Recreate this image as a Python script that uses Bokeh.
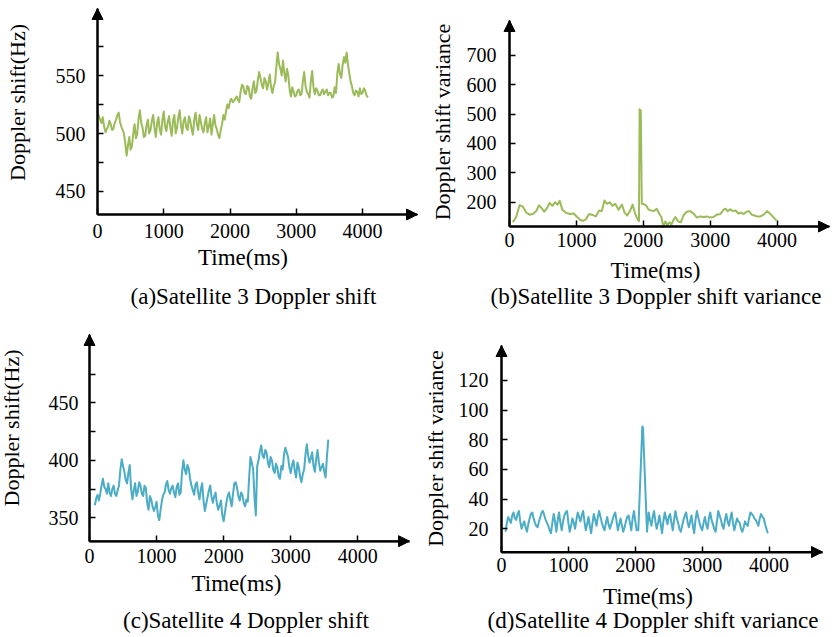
import math
from bokeh.plotting import figure
from bokeh.layouts import column, row
from bokeh.models import FixedTicker, Arrow, NormalHead, Label, Range1d
from bokeh.embed import file_html
from bokeh.resources import INLINE

FONT = "Liberation Serif"
GREEN = "#9bbb59"
BLUE = "#4bacc6"

# ---------------- data ----------------
# (a) Satellite 3 Doppler shift (Hz), sampled every 20 ms from 0 ms
sat3_time = list(range(0, 4081, 20))
sat3_shift = [
    519, 515, 512, 509, 514, 506, 501, 504, 506, 511, 508, 503, 504, 509, 512, 516, 518, 510, 506, 503,
    500, 491, 481, 490, 497, 486, 489, 500, 508, 496, 500, 513, 520, 509, 505, 497, 498, 507, 512, 500,
    503, 511, 516, 505, 497, 509, 514, 503, 499, 512, 519, 506, 502, 510, 515, 505, 498, 511, 516, 500,
    505, 514, 520, 507, 500, 511, 514, 505, 503, 515, 511, 504, 499, 512, 518, 508, 503, 516, 510, 504,
    501, 509, 514, 501, 506, 513, 499, 508, 516, 507, 504, 499, 496, 503, 508, 516, 512, 519, 525, 522,
    528, 530, 527, 528, 530, 532, 529, 527, 536, 542, 541, 535, 534, 541, 540, 532, 530, 539, 545, 535,
    537, 546, 553, 548, 542, 539, 548, 545, 538, 544, 551, 540, 535, 541, 544, 558, 570, 560, 556, 550,
    563, 552, 545, 556, 550, 538, 532, 540, 536, 532, 533, 537, 538, 533, 534, 545, 553, 541, 536, 534,
    531, 545, 554, 540, 534, 539, 537, 533, 533, 536, 538, 534, 536, 538, 533, 535, 535, 531, 532, 540,
    535, 552, 560, 551, 548, 559, 566, 561, 570, 560, 552, 545, 541, 535, 533, 537, 536, 532, 539, 534,
    535, 539, 537, 533, 531,
]

# (b) Satellite 3 Doppler shift variance
sat3_var_time = [
    50, 100, 150, 200, 250, 300, 350, 400, 440, 480,
    520, 560, 600, 640, 680, 720, 750, 790, 840, 900,
    960, 1010, 1060, 1100, 1140, 1190, 1240, 1290, 1340, 1380,
    1420, 1460, 1500, 1540, 1580, 1630, 1680, 1720, 1760, 1800,
    1840, 1880, 1920, 1935, 1945, 1962, 1978, 2000, 2040, 2080,
    2120, 2160, 2200, 2240, 2270, 2300, 2330, 2360, 2390, 2420,
    2450, 2480, 2520, 2560, 2600, 2650, 2700, 2750, 2800, 2850,
    2900, 2950, 3000, 3050, 3100, 3150, 3200, 3230, 3260, 3300,
    3340, 3380, 3420, 3460, 3500, 3540, 3580, 3620, 3660, 3700,
    3750, 3800, 3850, 3900, 3950, 3990,
]
sat3_var = [
    132, 150, 190, 185, 165, 158, 160, 170, 190, 180,
    168, 180, 198, 188, 200, 192, 205, 175, 165, 160,
    162, 150, 140, 137, 142, 160, 157, 152, 172, 170,
    206, 195, 200, 188, 195, 175, 192, 165, 155, 170,
    192, 160, 140, 136, 516, 512, 195, 194, 190, 175,
    172, 170, 178, 160, 150, 116, 135, 122, 132, 124,
    140, 150, 135, 132, 155, 168, 170, 162, 148, 152,
    150, 152, 148, 150, 158, 160, 175, 178, 170, 176,
    170, 172, 162, 165, 160, 168, 170, 158, 155, 152,
    152, 158, 170, 160, 148, 138,
]

# (c) Satellite 4 Doppler shift (Hz), sampled every 20 ms from 80 ms
sat4_time = list(range(80, 3561, 20))
sat4_shift = [
    361, 367, 370, 365, 371, 378, 384, 377, 375, 371, 380, 372, 369, 375, 378, 371, 369, 374, 378, 392,
    401, 395, 390, 383, 380, 389, 396, 375, 366, 374, 380, 369, 373, 381, 378, 371, 369, 378, 376, 363,
    357, 369, 366, 360, 356, 359, 364, 352, 348, 357, 365, 370, 372, 379, 382, 374, 371, 376, 378, 372,
    368, 377, 380, 370, 372, 390, 400, 392, 388, 396, 393, 384, 378, 374, 370, 379, 381, 372, 366, 375,
    380, 365, 356, 362, 368, 374, 378, 368, 363, 369, 372, 362, 357, 361, 365, 352, 347, 355, 363, 369,
    372, 366, 360, 371, 380, 381, 376, 369, 365, 372, 370, 363, 360, 366, 364, 385, 403, 398, 392, 368,
    352, 395, 400, 408, 413, 404, 402, 409, 407, 398, 394, 403, 400, 392, 389, 397, 394, 386, 384, 395,
    392, 405, 411, 407, 403, 394, 389, 396, 400, 391, 385, 398, 394, 386, 381, 388, 392, 405, 414, 404,
    398, 402, 407, 395, 390, 401, 409, 398, 391, 394, 397, 390, 385, 403, 418,
]

# (d) Satellite 4 Doppler shift variance
sat4_var_time = (list(range(60, 2021, 20)) + [2045, 2105, 2115, 2175]
                 + list(range(2200, 3981, 20)))
sat4_var = [
    18, 24, 28, 26, 24, 29, 31, 27, 26, 30,
    32, 25, 20, 23, 25, 21, 18, 23, 27, 30,
    31, 27, 24, 22, 21, 25, 28, 31, 32, 29,
    26, 24, 22, 19, 17, 24, 30, 25, 18, 26,
    31, 24, 19, 25, 29, 31, 32, 24, 18, 22,
    27, 24, 20, 26, 31, 28, 25, 29, 32, 25,
    19, 23, 28, 22, 17, 24, 30, 26, 22, 28,
    32, 28, 24, 21, 19, 24, 28, 23, 20, 23,
    26, 29, 31, 25, 19, 23, 27, 22, 18, 21,
    25, 28, 29, 24, 19, 27, 32, 25, 19,
    19, 89, 88, 18,
    31, 26, 22, 28, 32, 25, 20, 24, 29, 23,
    17, 25, 31, 27, 23, 28, 30, 24, 19, 26,
    32, 27, 24, 20, 18, 22, 26, 29, 31, 25,
    21, 25, 29, 22, 17, 26, 32, 28, 24, 21,
    19, 24, 28, 23, 20, 27, 31, 26, 23, 20,
    18, 25, 32, 29, 26, 22, 20, 26, 30, 25,
    22, 27, 31, 24, 19, 23, 27, 25, 24, 20,
    18, 21, 25, 23, 22, 27, 31, 30, 29, 27,
    26, 24, 22, 27, 30, 28, 27, 23, 20, 17,
]

x_ticks = [0, 1000, 2000, 3000, 4000]
sat3_shift_ticks = [450, 475, 500, 525, 550, 575]
sat3_var_ticks = [200, 300, 400, 500, 600, 700]
sat4_shift_ticks = [350, 375, 400, 425, 450, 475]
sat4_var_ticks = [20, 40, 60, 80, 100, 120]

# axis extents (data units): x arrow tip, y at the x-axis, y arrow tip
sat3_shift_axes = (4830, 430.1, 607.9)
sat3_var_axes = (4783, 117.7, 818.0)
sat4_shift_axes = (4771, 329.7, 509.4)
sat4_var_axes = (4798, 4.35, 143.6)


def panel(w, h, geom, axes, xs, ys, color, yticks, blank,
          ylabel, ylab_pos, xlab_pos, caption, cap_pos,
          tick_sx, tick_sy):
    ox, oy, tipx, tipy = geom          # pixel geometry inside the figure
    x_tip, y0, y_tip = axes
    ux = x_tip / (tipx - ox)
    uy = (y_tip - y0) / (oy - tipy)
    x_start = -ox * ux
    y_end = y0 + oy * uy
    xr = Range1d(x_start, x_start + w * ux)
    yr = Range1d(y_end - h * uy, y_end)

    def dx(px):
        return x_start + px * ux

    def dy(py):
        return y_end - py * uy

    p = figure(width=w, height=h, output_backend="svg", toolbar_location=None,
               title=None, x_range=xr, y_range=yr,
               min_border_left=0, min_border_right=0,
               min_border_top=0, min_border_bottom=0)
    p.xgrid.visible = False
    p.ygrid.visible = False
    p.outline_line_color = None
    p.background_fill_color = "white"
    p.border_fill_color = "white"
    p.line(xs, ys, line_color=color, line_width=2, line_join="round")

    for ax in (p.xaxis[0], p.yaxis[0]):
        ax.axis_line_width = 2
        ax.axis_line_color = "black"
        ax.major_tick_line_width = 1.5
        ax.major_tick_line_color = "black"
        ax.major_tick_in = 6
        ax.major_tick_out = 0
        ax.minor_tick_in = 0
        ax.minor_tick_out = 0
        ax.major_label_text_font = FONT
        ax.major_label_text_font_size = "20px"
        ax.major_label_text_font_style = "normal"
        ax.major_label_text_color = "black"
    xa, ya = p.xaxis[0], p.yaxis[0]
    xa.fixed_location = y0
    ya.fixed_location = 0
    xa.bounds = (0, x_tip)
    ya.bounds = (y0, y_tip)
    xa.ticker = FixedTicker(ticks=x_ticks)
    ya.ticker = FixedTicker(ticks=yticks)
    ya.major_label_overrides = {t: "" for t in blank}
    xa.major_label_standoff = tick_sx
    ya.major_label_standoff = tick_sy

    head_kw = dict(size=11, fill_color="black", line_color="black", line_width=1)
    p.add_layout(Arrow(end=NormalHead(**head_kw), x_start=0, y_start=y0,
                       x_end=0, y_end=y_tip, line_color="black", line_width=2))
    p.add_layout(Arrow(end=NormalHead(**head_kw), x_start=0, y_start=y0,
                       x_end=x_tip, y_end=y0, line_color="black", line_width=2))

    common = dict(text_font=FONT, text_color="black", text_align="center",
                  text_baseline="middle", text_font_style="normal")
    p.add_layout(Label(x=dx(ylab_pos[0]), y=dy(ylab_pos[1]), text=ylabel,
                       angle=math.pi / 2, text_font_size="22px", **common))
    p.add_layout(Label(x=dx(xlab_pos[0]), y=dy(xlab_pos[1]), text="Time(ms)",
                       text_font_size="23px", **common))
    p.add_layout(Label(x=dx(cap_pos[0]), y=dy(cap_pos[1]), text=caption,
                       text_font_size="23px", **common))
    return p


pa = panel(420, 320, (97, 214, 417, 8), sat3_shift_axes,
           sat3_time, sat3_shift, GREEN, sat3_shift_ticks, [475, 525, 575],
           "Doppler shift(Hz)", (17, 102), (242.5, 257),
           "(a)Satellite 3 Doppler shift", (253, 296), 9, 12)

pb = panel(419, 320, (89, 226, 409, 20), sat3_var_axes,
           sat3_var_time, sat3_var, GREEN, sat3_var_ticks, [],
           "Doppler shift variance", (22, 121.5), (235, 270),
           "(b)Satellite 3 Doppler shift variance", (235.5, 296), 6, 13)

pc = panel(420, 317, (89, 220.7, 409, 14), sat4_shift_axes,
           sat4_time, sat4_shift, BLUE, sat4_shift_ticks, [375, 425, 475],
           "Doppler shift(Hz)", (11, 107.5), (236, 263),
           "(c)Satellite 4 Doppler shift", (245.5, 300), 8, 11)

pd = panel(419, 317, (81, 231.5, 402, 25), sat4_var_axes,
           sat4_var_time, sat4_var, BLUE, sat4_var_ticks, [],
           "Doppler shift variance", (15, 128), (227.5, 276),
           "(d)Satellite 4 Doppler shift variance", (232.5, 300), 6, 13)

layout = column(row(pa, pb), row(pc, pd))

open("out.html", "w").write(file_html(layout, INLINE))
